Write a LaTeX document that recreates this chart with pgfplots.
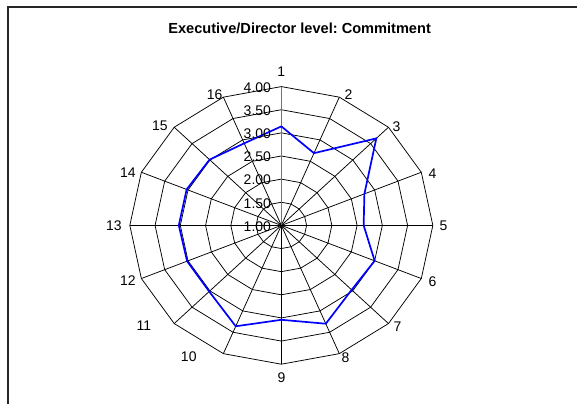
\documentclass[border=0pt]{standalone}
\usepackage{pgfplots}
\pgfplotsset{compat=1.18}
\usepackage{fontspec}
\setmainfont{Liberation Sans}
\frenchspacing
\begin{document}
\begin{tikzpicture}
\begin{axis}[
  scale only axis, width=578pt, height=405pt,
  xmin=0, xmax=578, ymin=-405, ymax=0,
  hide axis, clip=false,
]
% invisible bounding rectangle
\path (axis cs:0,-405) rectangle (axis cs:578,0);
% frame
\draw[line width=1.5pt, black!85] (axis cs:8,-405) -- (axis cs:8,-7) -- (axis cs:578,-7);
% rings
\pgfplotsinvokeforeach{0.5,1,1.5,2,2.5,3}{
  \draw[black, line width=0.75pt] plot[samples at={0,22.5,...,360}]
    (axis cs:{281.7+50.57*#1*sin(\x)},{-225.7+46.33*#1*cos(\x)});
}
% spokes
\pgfplotsinvokeforeach{1,...,15}{
  \draw[black, line width=0.75pt] (axis cs:281.7,-225.7) --
    (axis cs:{281.7+151.7*sin(#1*22.5)},{-225.7+139*cos(#1*22.5)});
}
\draw[black!55, line width=1.1pt] (axis cs:281.7,-225.7) -- (axis cs:281.7,-86.7);
\addplot[blue, line width=1.7pt, mark=none, line join=miter] table[
  x expr={281.7+50.57*(\thisrow{v}-1)*sin(22.5*\thisrow{k})},
  y expr={-225.7+46.33*(\thisrow{v}-1)*cos(22.5*\thisrow{k})}]{
k v
0 3.14
1 2.69
2 3.66
3 2.78
4 2.63
5 3.00
6 2.97
7 3.30
8 3.04
9 3.36
10 3.02
11 3.02
12 3.03
13 3.03
14 3.01
15 2.92
16 3.14
};
% value labels
\tikzset{val/.style={anchor=east, inner sep=0pt, font=\fontsize{14}{16}\selectfont}}
\node[val] at (axis cs:271.5,-226.7) {1.00};
\node[val] at (axis cs:271.5,-203.5) {1.50};
\node[val] at (axis cs:271.5,-180.4) {2.00};
\node[val] at (axis cs:271.5,-157.2) {2.50};
\node[val] at (axis cs:271.5,-134.0) {3.00};
\node[val] at (axis cs:271.5,-110.9) {3.50};
\node[val] at (axis cs:271.5,-87.7) {4.00};
% category labels
\tikzset{cat/.style={inner sep=0pt, font=\fontsize{14}{16}\selectfont}}
\node[cat] at (axis cs:281.7,-72) {1};
\node[cat] at (axis cs:349,-95) {2};
\node[cat] at (axis cs:397,-127) {3};
\node[cat] at (axis cs:433,-174) {4};
\node[cat] at (axis cs:444,-226) {5};
\node[cat] at (axis cs:433,-282) {6};
\node[cat] at (axis cs:398,-327) {7};
\node[cat] at (axis cs:346,-358) {8};
\node[cat] at (axis cs:282,-378) {9};
\node[cat] at (axis cs:189,-357) {10};
\node[cat] at (axis cs:144,-326) {11};
\node[cat] at (axis cs:128,-281) {12};
\node[cat] at (axis cs:114,-226) {13};
\node[cat] at (axis cs:128,-173) {14};
\node[cat] at (axis cs:160,-126) {15};
\node[cat] at (axis cs:215,-95) {16};
% title
\node[inner sep=0pt, font=\bfseries\fontsize{14.6}{17}\selectfont] at (axis cs:300,-28) {Executive/Director level: Commitment};
\end{axis}
\end{tikzpicture}
\end{document}
